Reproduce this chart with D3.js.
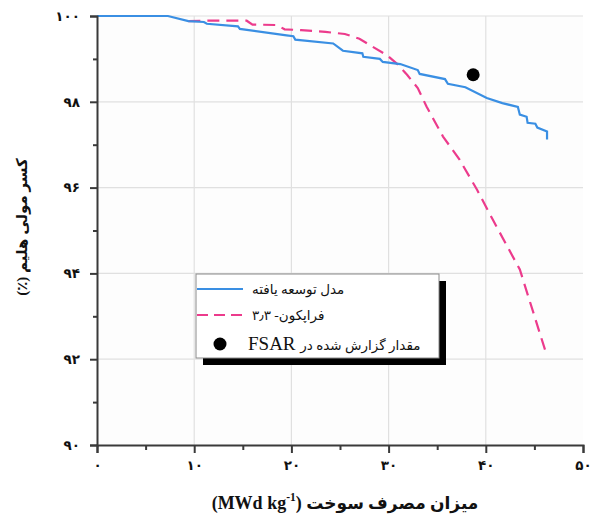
<!DOCTYPE html>
<html>
<head>
<meta charset="utf-8">
<script src="https://cdn.jsdelivr.net/npm/d3@7"></script>
<style>
  html, body { margin: 0; padding: 0; background: #ffffff; }
  svg { display: block; }
  text { font-family: "Liberation Serif", "DejaVu Sans", serif; }
</style>
</head>
<body>
<svg id="chart" width="593" height="517"></svg>
<script>
// ---- data ----
const blueBurnup = [0, 7.3, 9.4, 11.0, 11.3, 14.5, 14.7, 19.5, 20.2, 20.4, 24.3, 25.3, 27.3, 27.4, 29.1, 29.4, 31.2, 33.0, 33.2, 35.8, 36.1, 37.9, 40.1, 41.7, 43.3, 43.5, 44.2, 44.3, 45.1, 45.3, 46.3, 46.3];
const blueHe     = [100, 100, 99.88, 99.86, 99.82, 99.76, 99.70, 99.55, 99.53, 99.45, 99.36, 99.19, 99.13, 99.05, 99.00, 98.93, 98.88, 98.74, 98.65, 98.53, 98.42, 98.34, 98.09, 97.97, 97.88, 97.70, 97.65, 97.51, 97.49, 97.40, 97.31, 97.12];

const pinkBurnup = [9.4, 11.3, 15.4, 16.0, 18.5, 19.3, 21.0, 23.5, 25.5, 27.0, 28.3, 29.8, 30.9, 31.9, 33.0, 33.9, 35.6, 37.3, 39.1, 40.7, 43.5, 46.3];
const pinkHe     = [99.88, 99.89, 99.89, 99.80, 99.79, 99.69, 99.67, 99.63, 99.58, 99.47, 99.29, 99.09, 98.88, 98.63, 98.32, 97.89, 97.19, 96.65, 95.95, 95.26, 94.09, 92.07];

const fsarBurnup = [38.7];
const fsarHe     = [98.63];

const xTickValues = [0, 10, 20, 30, 40, 50];
const xTickLabels = ["۰", "۱۰", "۲۰", "۳۰", "۴۰", "۵۰"];
const yTickValues = [90, 92, 94, 96, 98, 100];
const yTickLabels = ["۹۰", "۹۲", "۹۴", "۹۶", "۹۸", "۱۰۰"];
const xMinorTicks = [5, 15, 25, 35, 45];
const yMinorTicks = [91, 93, 95, 97, 99];

const legendLabels = ["مدل توسعه یافته", "فراپکون- ۳٫۳", "مقدار گزارش شده در"];
const legendFsar = "FSAR";
const xTitleFa = "میزان مصرف سوخت";
const xTitleUnit = "MWd kg";
const xTitleSup = "-1";
const yTitle = "کسر مولی هلیم (٪)";

// ---- chart ----
const svg = d3.select("#chart");
const x = d3.scaleLinear().domain([0, 50]).range([97, 583]);
const y = d3.scaleLinear().domain([90, 100]).range([445, 16]);

const blueColor = "#3a8fe3";
const pinkColor = "#ec3b8c";

// plot background
svg.append("rect").attr("x", x(0)).attr("y", y(100)).attr("width", x(50) - x(0)).attr("height", y(90) - y(100)).attr("fill", "#fdfdfd");

// grid
const grid = svg.append("g").attr("stroke", "#e0e0e0").attr("stroke-width", 1.2);
grid.selectAll("line.v").data([10, 20, 30, 40]).join("line")
  .attr("x1", d => x(d)).attr("x2", d => x(d)).attr("y1", y(100)).attr("y2", y(90));
grid.selectAll("line.h").data([92, 94, 96, 98, 100]).join("line")
  .attr("x1", x(0)).attr("x2", x(50)).attr("y1", d => y(d)).attr("y2", d => y(d));

// lines
const lineGen = (xs, ys) => d3.line().x((d, i) => x(xs[i])).y((d, i) => y(ys[i]))(xs);
svg.append("path").attr("d", lineGen(pinkBurnup, pinkHe)).attr("fill", "none")
  .attr("stroke", pinkColor).attr("stroke-width", 2.2).attr("stroke-dasharray", "12,7");
svg.append("path").attr("d", lineGen(blueBurnup, blueHe)).attr("fill", "none")
  .attr("stroke", blueColor).attr("stroke-width", 2.2);

// FSAR point
svg.selectAll("circle.fsar").data(fsarBurnup).join("circle")
  .attr("cx", d => x(d)).attr("cy", (d, i) => y(fsarHe[i])).attr("r", 6.5).attr("fill", "#000");

// axes
const axisColor = "#3a3a3a";
const xAxis = svg.append("g").attr("transform", `translate(0,${y(90)})`)
  .call(d3.axisBottom(x).tickValues(xTickValues).tickSize(8).tickPadding(7)
    .tickFormat((d, i) => xTickLabels[i]));
const xMinor = svg.append("g").attr("transform", `translate(0,${y(90)})`)
  .call(d3.axisBottom(x).tickValues(xMinorTicks).tickSize(5).tickFormat(""));
const yAxis = svg.append("g").attr("transform", `translate(${x(0)},0)`)
  .call(d3.axisLeft(y).tickValues(yTickValues).tickSize(7).tickPadding(10)
    .tickFormat((d, i) => yTickLabels[i]));
const yMinor = svg.append("g").attr("transform", `translate(${x(0)},0)`)
  .call(d3.axisLeft(y).tickValues(yMinorTicks).tickSize(4).tickFormat(""));

[xAxis, xMinor, yAxis, yMinor].forEach(g => {
  g.selectAll(".domain").attr("stroke", axisColor).attr("stroke-width", 2);
  g.selectAll(".tick line").attr("stroke", axisColor).attr("stroke-width", 2);
  g.selectAll(".tick text").attr("fill", "#111").attr("font-size", 13.5).attr("font-weight", "bold")
    .attr("font-family", "'DejaVu Sans', sans-serif");
});
xMinor.select(".domain").remove();
yMinor.select(".domain").remove();

// axis titles
svg.append("text")
  .attr("transform", "translate(27,227) rotate(-90)")
  .attr("text-anchor", "middle").attr("direction", "rtl")
  .attr("font-size", 15).attr("font-weight", "bold").attr("fill", "#111")
  .text(yTitle);

const xt = svg.append("text")
  .attr("x", 345).attr("y", 509)
  .attr("text-anchor", "middle")
  .attr("font-weight", "bold").attr("fill", "#111");
xt.append("tspan").attr("font-size", 18).text("(" + xTitleUnit);
xt.append("tspan").attr("font-size", 11.5).attr("dy", -8).text(xTitleSup);
xt.append("tspan").attr("font-size", 18).attr("dy", 8).text(") ");
xt.append("tspan").attr("font-size", 17).text(xTitleFa);

// legend
const lg = svg.append("g");
const bx = 196, by = 274, bw = 243, bh = 84;
lg.append("rect").attr("x", bx + 7).attr("y", by + 7).attr("width", bw).attr("height", bh).attr("fill", "#000");
lg.append("rect").attr("x", bx).attr("y", by).attr("width", bw).attr("height", bh)
  .attr("fill", "#fff").attr("stroke", "#8a8a8a").attr("stroke-width", 1);
lg.append("line").attr("x1", 197).attr("x2", 243).attr("y1", 289).attr("y2", 289)
  .attr("stroke", blueColor).attr("stroke-width", 2);
lg.append("line").attr("x1", 197).attr("x2", 243).attr("y1", 315).attr("y2", 315)
  .attr("stroke", pinkColor).attr("stroke-width", 2.2).attr("stroke-dasharray", "11,6");
lg.append("circle").attr("cx", 220).attr("cy", 344).attr("r", 6.5).attr("fill", "#000");
lg.append("text").attr("x", 252).attr("y", 294).attr("font-size", 13.5).attr("fill", "#111").text(legendLabels[0]);
lg.append("text").attr("x", 252).attr("y", 320).attr("font-size", 13.5).attr("fill", "#111").text(legendLabels[1]);
const l3 = lg.append("text").attr("x", 248).attr("y", 350).attr("fill", "#111");
l3.append("tspan").attr("font-size", 19).text(legendFsar + " ");
l3.append("tspan").attr("font-size", 13.5).text(legendLabels[2]);
</script>
</body>
</html>
